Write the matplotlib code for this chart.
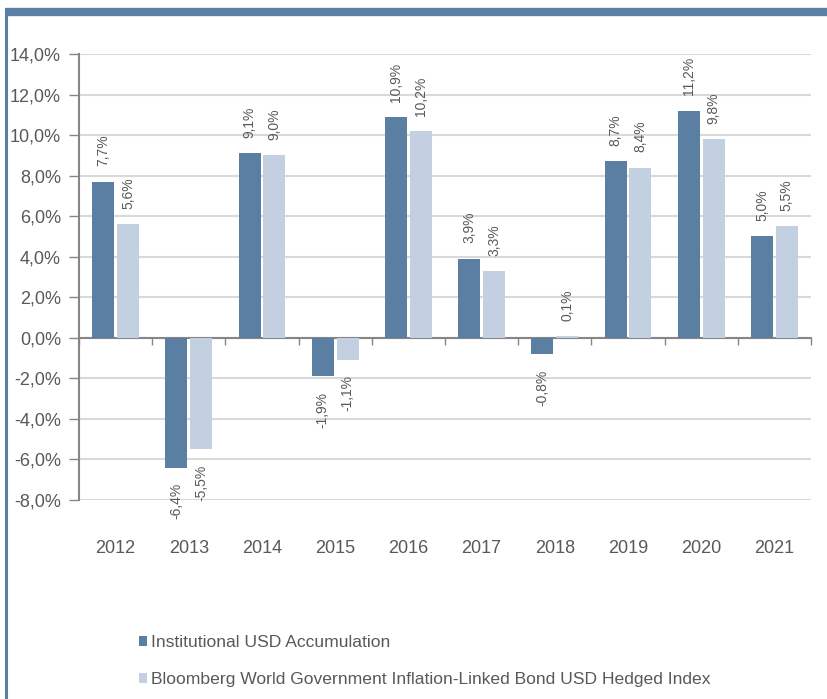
import numpy as np
import matplotlib
matplotlib.use("Agg")
import matplotlib.pyplot as plt
from matplotlib.lines import Line2D

plt.rcParams['font.family'] = ['Liberation Sans', 'DejaVu Sans']

years = ['2012', '2013', '2014', '2015', '2016', '2017', '2018', '2019', '2020', '2021']
fund = [7.7, -6.4, 9.1, -1.9, 10.9, 3.9, -0.8, 8.7, 11.2, 5.0]
index = [5.6, -5.5, 9.0, -1.1, 10.2, 3.3, 0.1, 8.4, 9.8, 5.5]
names = ['Institutional USD Accumulation',
         'Bloomberg World Government Inflation-Linked Bond USD Hedged Index']

dark = '#5b7fa3'
light = '#c3d0e2'
txt = '#595959'
axc = '#868686'

fig = plt.figure(figsize=(8.27, 6.99), dpi=100)
ax = fig.add_axes([79/827, 1-500/699, (811-79)/827, (500-54)/699])

x = np.arange(len(years))
w = 0.30
b1 = ax.bar(x - 0.17, fund, w, color=dark, label=names[0], zorder=3)
b2 = ax.bar(x + 0.17, index, w, color=light, label=names[1], zorder=3)

for bars, vals in ((b1, fund), (b2, index)):
    for r, v in zip(bars, vals):
        xc = r.get_x() + r.get_width()/2
        lab = f'{v:.1f}%'.replace('.', ',')
        if v >= 0:
            ax.annotate(lab, (xc, v), xytext=(0, 11), textcoords='offset points',
                        rotation=90, ha='center', va='bottom', fontsize=10, color=txt)
        else:
            ax.annotate(lab, (xc, v), xytext=(0, -11), textcoords='offset points',
                        rotation=90, ha='center', va='top', fontsize=10, color=txt)

ax.set_xlim(-0.5, len(years) - 0.5)
ax.set_ylim(-8, 14)
yt = np.arange(-8, 15, 2)
ax.set_yticks(yt)
ax.set_yticklabels([f'{v:.1f}%'.replace('.', ',') for v in yt], fontsize=13, color=txt)
ax.yaxis.grid(True, color='#d9d9d9', linewidth=1.5, zorder=0)
ax.tick_params(axis='y', length=7, color=axc, width=1, pad=6)

# category boundary ticks on the zero line
ax.set_xticks(np.arange(-0.5, len(years), 1))
ax.set_xticklabels([])
ax.tick_params(axis='x', direction='out', length=5, color=axc, width=1)
ax.spines['bottom'].set_position(('data', 0))
ax.spines['bottom'].set_color(axc)
ax.spines['bottom'].set_linewidth(1.5)
ax.spines['left'].set_color(axc)
ax.spines['left'].set_linewidth(1.5)
ax.spines['top'].set_visible(False)
ax.spines['right'].set_visible(False)
ax.set_axisbelow(True)

for i, yr in enumerate(years):
    ax.annotate(yr, (i, 0), xycoords=('data', 'axes fraction'), xytext=(0, -35),
                textcoords='offset points', ha='center', va='center',
                fontsize=13, color=txt)

leg = fig.legend(handles=[b1, b2], loc='upper left', bbox_to_anchor=(139/827, 1-635/699),
                 frameon=False, fontsize=12.6, handlelength=0.48, handleheight=0.48,
                 handletextpad=0.2, labelspacing=1.28, borderpad=0, borderaxespad=0)
for t in leg.get_texts():
    t.set_color(txt)

# frame decoration: thick top band and left rule
fig.add_artist(Line2D([5/827, 1], [1-12/699, 1-12/699], color=dark, linewidth=6,
                      solid_capstyle='butt'))
fig.add_artist(Line2D([6/827, 6/827], [1-9/699, 0], color=dark, linewidth=2.2,
                      solid_capstyle='butt'))

fig.savefig('out.png', dpi=100)
